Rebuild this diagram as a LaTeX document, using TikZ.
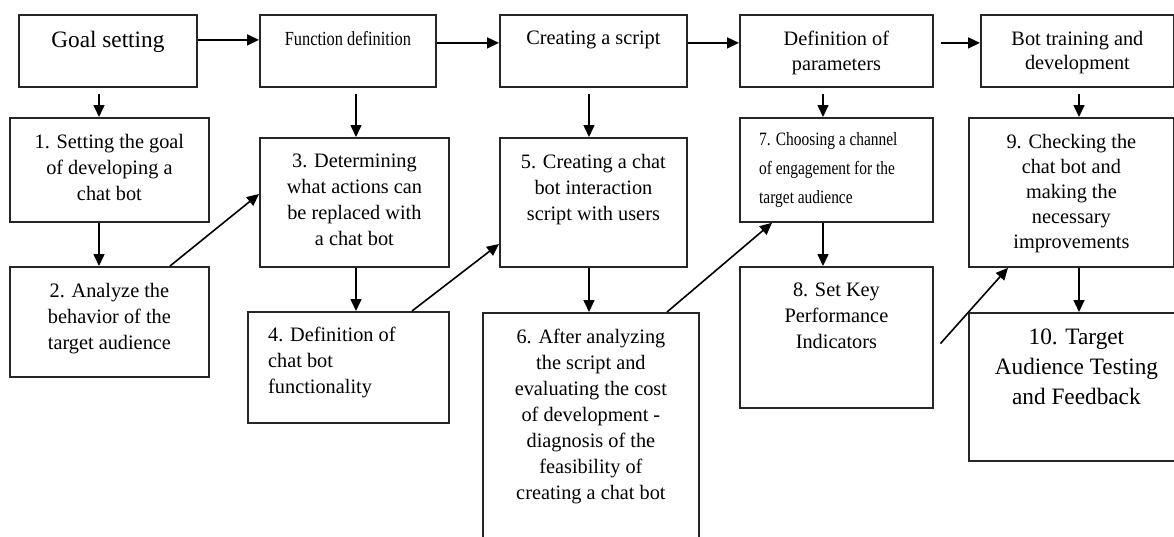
\documentclass[tikz,border=0pt]{standalone}
\usepackage{fontspec}
\setmainfont{Liberation Serif}
\newfontfamily\bodyfont[FakeStretch=0.99]{Liberation Serif}
\newfontfamily\narrowfont[FakeStretch=0.82]{Liberation Serif}
\usetikzlibrary{arrows.meta}
\tikzstyle{box} = [rectangle, draw=black!85, line width=1.8pt, anchor=north west, inner sep=0pt]
\tikzstyle{txt} = [anchor=north, align=center, inner sep=0pt, yshift=-17pt, font=\bodyfont\fontsize{20.5}{26}\selectfont]
\tikzstyle{txtleft} = [txt, anchor=north west, align=left]
\tikzstyle{arrow} = [line width=1.6pt, -{Triangle[length=12pt,width=11pt]}]

\begin{document}
\begin{tikzpicture}[x=1pt, y=-1pt]

        \path [use as bounding box, fill=white] (0,0) rectangle (1174,536);
        \clip (0,0) rectangle (1174,536);

        % Top row (stages)
        \node (goal) [box, minimum width=178pt, minimum height=72pt] at (18,14) {};
        \node (func) [box, minimum width=176pt, minimum height=72pt] at (259,14) {};
        \node (create) [box, minimum width=187pt, minimum height=72pt] at (499,14) {};
        \node (param) [box, minimum width=193pt, minimum height=72pt] at (739,14) {};
        \node (train) [box, minimum width=193pt, minimum height=72pt] at (980,14) {};

        \node (tgoal) [txt, font=\bodyfont\fontsize{23.5}{30}\selectfont] at (goal.north) {Goal setting};
        \node (tfunc) [txt, font=\narrowfont\fontsize{20}{24}\selectfont] at (func.north) {Function definition};
        \node (tcreate) [txt] at (create.north) {Creating a script};
        \node (tparam) [txt, font=\bodyfont\fontsize{20.5}{24.5}\selectfont] at (param.north) {Definition of\\parameters};
        \node (ttrain) [txt, font=\bodyfont\fontsize{20.5}{24.5}\selectfont] at (train.north) {Bot training and\\development};

        % Steps 1-10
        \node (s1) [box, minimum width=199pt, minimum height=104pt] at (9,117) {};
        \node (s2) [box, minimum width=199pt, minimum height=110pt] at (9,266) {};
        \node (s3) [box, minimum width=189pt, minimum height=129pt] at (259,137) {};
        \node (s4) [box, minimum width=201pt, minimum height=111pt] at (247,311) {};
        \node (s5) [box, minimum width=187pt, minimum height=129pt] at (499,137) {};
        \node (s6) [box, minimum width=216pt, minimum height=260pt] at (482,312) {};
        \node (s7) [box, minimum width=193pt, minimum height=104pt] at (739,117) {};
        \node (s8) [box, minimum width=193pt, minimum height=141pt] at (739,266) {};
        \node (s9) [box, minimum width=205pt, minimum height=149pt] at (968,117) {};
        \node (s10) [box, minimum width=215pt, minimum height=148pt] at (968,312) {};

        \node (t1) [txt] at (s1.north) {1. Setting the goal\\of developing a\\chat bot};
        \node (t2) [txt] at (s2.north) {2. Analyze the\\behavior of the\\target audience};
        \node (t3) [txt] at (s3.north) {3. Determining\\what actions can\\be replaced with\\a chat bot};
        \node (t4) [txtleft, xshift=21pt, yshift=1pt] at (s4.north west) {4. Definition of\\chat bot\\functionality};
        \node (t5) [txt] at (s5.north) {5. Creating a chat\\bot interaction\\script with users};
        \node (t6) [txt] at (s6.north) {6. After analyzing\\the script and\\evaluating the cost\\of development -\\diagnosis of the\\feasibility of\\creating a chat bot};
        \node (t7) [txtleft, xshift=20pt, yshift=2pt, font=\narrowfont\fontsize{18.8}{29}\selectfont] at (s7.north west) {7. Choosing a channel\\of engagement for the\\target audience};
        \node (t8) [txt] at (s8.north) {8. Set Key\\Performance\\Indicators};
        \node (t9) [txt, font=\bodyfont\fontsize{20.5}{25}\selectfont] at (s9.north) {9. Checking the\\chat bot and\\making the\\necessary\\improvements};
        \node (t10) [txt, font=\bodyfont\fontsize{23.5}{30}\selectfont] at (s10.north) {10. Target\\Audience Testing\\and Feedback};

        % Arrows along the top row
        \draw [arrow] ([yshift=11pt]goal.east) -- ([yshift=11pt]func.west);
        \draw [arrow] ([yshift=8pt]func.east) -- ([yshift=8pt]create.west);
        \draw [arrow] ([yshift=8pt]create.east) -- ([yshift=8pt]param.west);
        \draw [arrow, shorten <=7pt] ([yshift=8pt]param.east) -- ([yshift=8pt]train.west);

        % Arrows down each column
        \draw [arrow, shorten <=6pt] (goal.south -| 99,0) -- (s1.north -| 99,0);
        \draw [arrow, shorten <=6pt] (func.south -| 356,0) -- (s3.north -| 356,0);
        \draw [arrow, shorten <=6pt] (create.south -| 589,0) -- (s5.north -| 589,0);
        \draw [arrow, shorten <=6pt] (param.south -| 823,0) -- (s7.north -| 823,0);
        \draw [arrow, shorten <=6pt] (train.south -| 1079,0) -- (s9.north -| 1079,0);
        \draw [arrow] (s1.south -| 99,0) -- (s2.north -| 99,0);
        \draw [arrow] (s3.south -| 356,0) -- (s4.north -| 356,0);
        \draw [arrow] (s5.south -| 589,0) -- (s6.north -| 589,0);
        \draw [arrow] (s7.south -| 823,0) -- (s8.north -| 823,0);
        \draw [arrow] (s9.south -| 1079,0) -- (s10.north -| 1079,0);

        % Diagonal arrows between columns
        \draw [arrow] (s2.north -| 170,0) -- (s3.west |- 0,194);
        \draw [arrow] (s4.north -| 412,0) -- (s5.west |- 0,244);
        \draw [arrow] (s6.north -| 667,0) -- (s7.south -| 772,0);
        \draw [arrow, shorten <=10pt] (s8.east |- 0,351) -- (s9.south -| 1008,0);

    \end{tikzpicture}
\end{document}
